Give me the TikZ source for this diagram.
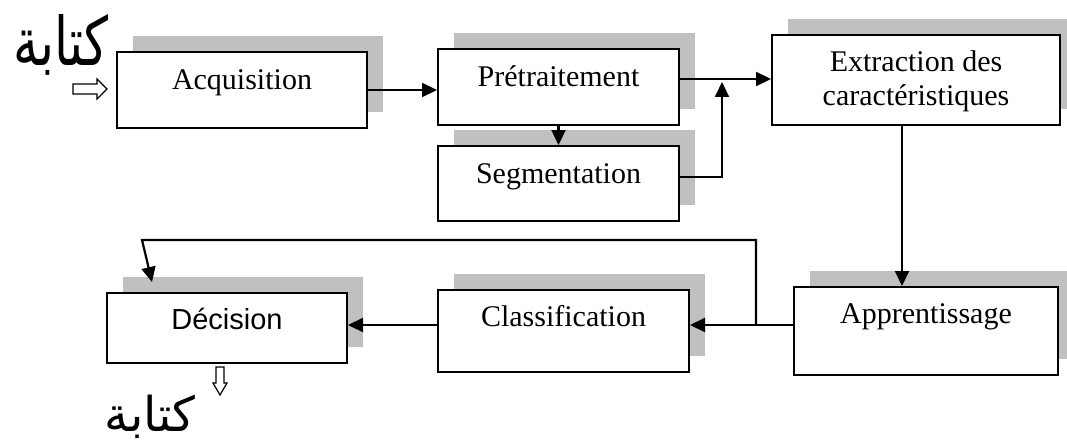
\documentclass[tikz,border=0pt]{standalone}
\usepackage{fontspec}
\setmainfont{Liberation Serif}
\newfontfamily\arialfont{Liberation Sans}
\newfontfamily\arabicfont[Script=Arabic]{DejaVu Sans}
\TeXXeTstate=1
\usetikzlibrary{arrows.meta,shadows}

\definecolor{shadowgray}{RGB}{192,192,192}

\begin{document}
\begin{tikzpicture}[x=1pt,y=-1pt,
  stage/.style={draw=black, line width=2pt, fill=white, inner sep=0pt,
    drop shadow={shadow xshift=16pt, shadow yshift=16pt, fill=shadowgray, opacity=1}},
  lbl/.style={font=\fontsize{30}{35}\selectfont, anchor=base, inner sep=0pt},
  arr/.style={line width=2.2pt, -{Triangle[length=15pt,width=14pt]}},
  hollow/.style={draw=black, line width=1.2pt, fill=white, line join=miter},
  arab/.style={font=\arabicfont\fontsize{48}{52}\selectfont, anchor=base, inner sep=0pt}]

\useasboundingbox (0,0) rectangle (1067,441);
\fill[white] (0,0) rectangle (1067,441);
\clip (0,0) rectangle (1067,441);

% processing stages
\node[stage, minimum width=250pt, minimum height=76pt] (acq)   at (242,90)    {};
\node[stage, minimum width=241pt, minimum height=76pt] (pret)  at (558.5,87)  {};
\node[stage, minimum width=241pt, minimum height=75pt] (seg)   at (558.5,183.5) {};
\node[stage, minimum width=288pt, minimum height=90pt] (ext)   at (916,80)    {};
\node[stage, minimum width=264pt, minimum height=88pt] (appr)  at (926,331)   {};
\node[stage, minimum width=251pt, minimum height=82pt] (class) at (563.5,331) {};
\node[stage, minimum width=240pt, minimum height=70pt] (dec)   at (227,328)   {};

% stage titles
\node[lbl] (acqT)   at ([yshift=-39pt]acq.north)   {Acquisition};
\node[lbl] (pretT)  at ([yshift=-39pt]pret.north)  {Prétraitement};
\node[lbl] (segT)   at ([yshift=-38pt]seg.north)   {Segmentation};
\node[lbl] (extT)   at ([yshift=-38pt]ext.north)   {Extraction des};
\node[lbl] (extT2)  at ([yshift=-72pt]ext.north)   {caractéristiques};
\node[lbl] (apprT)  at ([yshift=-37pt]appr.north)  {Apprentissage};
\node[lbl] (classT) at ([yshift=-37pt]class.north) {Classification};
\node[lbl, font=\arialfont\fontsize{29}{34}\selectfont] (decT) at ([yshift=-37pt]dec.north) {Décision};

% routing points
\coordinate (topLvl) at (0,79);
\coordinate (segLvl) at (0,177);
\coordinate (riseEnd) at (722,82);
\coordinate (dnx) at (902,0);
\coordinate (row) at (0,325);
\coordinate (jn) at (756,325);
\coordinate (fbCorner) at (142,240);
\coordinate (fbTip) at (152,282);

% connectors
\draw[arr] (acq.east) -- (pret.west |- acq.east);
\draw[arr] (pret.south) -- (seg.north);
\draw[arr] (pret.east |- topLvl) -- (ext.west |- topLvl);
\draw[arr] (seg.east |- segLvl) -| (riseEnd);
\draw[arr] (ext.south -| dnx) -- (appr.north -| dnx);
\draw[arr] (appr.west |- row) -- (class.east |- row);
\draw[arr] (class.west |- row) -- (dec.east |- row);
\draw[arr] (jn) |- (fbCorner) -- (fbTip);

% input and output block arrows
\draw[hollow] (73,84) -- (97,84) -- (97,79) -- (107,89) -- (97,99) -- (97,94) -- (73,94) -- cycle;
\draw[hollow] (216,367) -- (224,367) -- (224,383) -- (227,383) -- (220,395) -- (213,383) -- (216,383) -- cycle;

% handwritten word in, printed word out
\node[arab] (wordIn) at (61,66) {\scalebox{1.05}[1.4]{\beginR كتابة\endR}};
\node[arab] (wordOut) at (150,431) {\beginR كتابة\endR};

\end{tikzpicture}
\end{document}
